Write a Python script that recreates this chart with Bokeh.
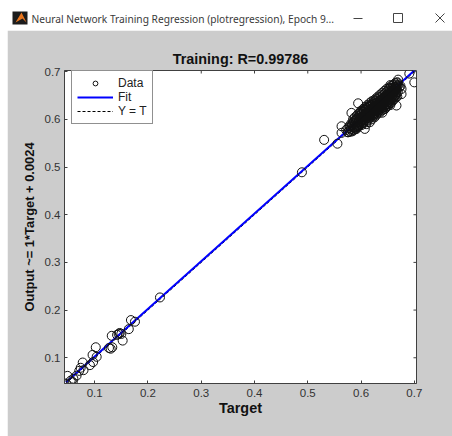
from bokeh.plotting import figure
from bokeh.models import FixedTicker, Range1d, Legend, LegendItem
from bokeh.core.properties import value
from bokeh.embed import file_html
from bokeh.resources import INLINE

window_title = "Neural Network Training Regression (plotregression), Epoch 9..."
chart_title = "Training: R=0.99786"
x_label = "Target"
y_label = "Output ~= 1*Target + 0.0024"
ticks = [0.1, 0.2, 0.3, 0.4, 0.5, 0.6, 0.7]

low_x = [0.046,0.049,0.0587,0.055,0.060,0.066,0.071,0.0737,0.0775,0.079,0.091,0.097,0.096,0.1037,0.102,
         0.1268,0.133,0.130,0.132,0.142,0.147,0.150,0.145,0.1525,0.164,0.168,0.1756,0.2225,0.489]
low_y = [0.046,0.062,0.049,0.052,0.056,0.0625,0.0725,0.079,0.090,0.074,0.0845,0.091,0.106,0.102,0.122,
         0.1205,0.122,0.119,0.146,0.148,0.152,0.150,0.150,0.136,0.160,0.179,0.1756,0.2265,0.489]

out_x = [0.5307,0.5557,0.5634,0.5634,0.5945,0.6906,0.700,0.6696,0.655,0.676,0.676,0.6665,0.6165,0.607,0.5915,0.576,0.582]
out_y = [0.557,0.549,0.5856,0.5717,0.6337,0.696,0.6776,0.6833,0.672,0.6638,0.653,0.629,0.594,0.580,0.580,0.573,0.6136]

cluster_x = [0.575,0.578,0.580,0.582,0.584,0.586,0.587,0.589,0.590,0.591,0.592,0.593,0.594,0.595,0.596,0.597,0.598,0.599,0.600,0.600,
 0.601,0.602,0.603,0.603,0.604,0.605,0.605,0.606,0.607,0.607,0.608,0.608,0.609,0.609,0.610,0.610,0.611,0.611,0.612,0.612,
 0.613,0.613,0.614,0.614,0.615,0.615,0.616,0.616,0.617,0.617,0.618,0.618,0.619,0.619,0.620,0.620,0.621,0.621,0.622,0.622,
 0.623,0.623,0.624,0.624,0.625,0.625,0.626,0.626,0.627,0.627,0.628,0.628,0.629,0.629,0.630,0.630,0.631,0.631,0.632,0.632,
 0.633,0.633,0.634,0.634,0.635,0.635,0.636,0.636,0.637,0.637,0.638,0.638,0.639,0.639,0.640,0.640,0.641,0.641,0.642,0.642,
 0.643,0.643,0.644,0.644,0.645,0.645,0.646,0.646,0.647,0.647,0.648,0.648,0.649,0.649,0.650,0.650,0.651,0.651,0.652,0.652,
 0.653,0.653,0.654,0.654,0.655,0.655,0.656,0.656,0.657,0.657,0.658,0.658,0.659,0.659,0.660,0.660,0.661,0.661,0.662,0.662,
 0.663,0.663,0.664,0.664,0.665,0.665,0.666,0.666,0.667,0.668,0.668,0.669]
cluster_y = [0.573,0.586,0.574,0.592,0.578,0.596,0.582,0.590,0.598,0.584,0.602,0.588,0.594,0.606,0.586,0.600,0.592,0.610,0.596,0.604,
 0.588,0.612,0.598,0.606,0.592,0.616,0.602,0.596,0.610,0.604,0.620,0.600,0.606,0.614,0.594,0.610,0.618,0.602,0.608,0.622,
 0.598,0.614,0.606,0.618,0.602,0.626,0.610,0.616,0.604,0.622,0.612,0.608,0.628,0.618,0.600,0.614,0.624,0.608,0.618,0.630,
 0.612,0.606,0.622,0.616,0.632,0.610,0.620,0.626,0.614,0.634,0.622,0.608,0.628,0.618,0.636,0.612,0.624,0.620,0.630,0.616,
 0.638,0.626,0.622,0.634,0.614,0.628,0.640,0.620,0.632,0.626,0.642,0.618,0.636,0.628,0.624,0.644,0.632,0.620,0.638,0.630,
 0.646,0.626,0.634,0.640,0.622,0.648,0.636,0.630,0.644,0.626,0.650,0.638,0.632,0.646,0.628,0.652,0.640,0.636,0.648,0.632,
 0.654,0.642,0.638,0.650,0.634,0.656,0.646,0.640,0.652,0.636,0.660,0.648,0.644,0.656,0.640,0.662,0.652,0.646,0.658,0.642,
 0.664,0.654,0.650,0.660,0.646,0.668,0.656,0.652,0.662,0.648,0.670,0.658]

upper_x = [0.585,0.588,0.592,0.595,0.598,0.600,0.602,0.604,0.606,0.608,0.610,0.612,0.614,0.616,0.618,0.620,0.622,0.624,0.626,0.628,
 0.630,0.632,0.634,0.636,0.638,0.640,0.642,0.644,0.646,0.648,0.650,0.652,0.654,0.656,0.658,0.660,0.662,0.664,0.666,0.668]
upper_y = [0.600,0.604,0.608,0.612,0.614,0.618,0.616,0.622,0.620,0.626,0.624,0.630,0.628,0.634,0.630,0.638,0.634,0.640,0.638,0.644,
 0.642,0.648,0.646,0.652,0.648,0.656,0.652,0.660,0.656,0.664,0.660,0.666,0.664,0.670,0.666,0.672,0.668,0.676,0.672,0.678]

core_x = [0.596,0.601,0.606,0.611,0.616,0.621,0.626,0.631,0.636,0.641,0.646,0.651,0.656,0.661,0.666,
 0.599,0.604,0.609,0.614,0.619,0.624,0.629,0.634,0.639,0.644,0.649,0.654,0.659,0.664]
core_y = [0.598,0.600,0.605,0.612,0.615,0.620,0.628,0.630,0.635,0.643,0.645,0.650,0.658,0.660,0.665,
 0.603,0.608,0.612,0.611,0.623,0.627,0.626,0.637,0.641,0.640,0.653,0.652,0.662,0.667]

edge_x = [0.572,0.576,0.578,0.580,0.581,0.583,0.584,0.585,0.586,0.587,0.588,0.590,0.591,0.593,0.594,0.595,0.597,
 0.665,0.670,0.672,0.668,0.674,0.600,0.610,0.625,0.640,0.655]
edge_y = [0.578,0.582,0.576,0.585,0.580,0.588,0.575,0.592,0.584,0.578,0.596,0.580,0.600,0.586,0.584,0.602,0.590,
 0.664,0.672,0.668,0.676,0.670,0.590,0.590,0.604,0.614,0.630]

fit_x = [0.046, 0.700]
fit_y = [0.0484, 0.7024]
yt_x = [0.046, 0.700]
yt_y = [0.046, 0.700]

GRAY = "#cccccc"
DARK = "#404040"
XMIN, XMAX, YMIN, YMAX = 0.0433, 0.7041, 0.046, 0.7025
TICK_X = 0.0057
TICK_Y = 0.0063

# window title bar, in pixel coordinates
BAR_W, BAR_H = 452, 30
bar = figure(width=BAR_W, height=BAR_H, x_range=Range1d(0, BAR_W), y_range=Range1d(BAR_H, 0),
             toolbar_location=None, output_backend="svg", min_border=0,
             background_fill_color="white", border_fill_color="white", outline_line_color=None)
bar.axis.visible = False
bar.grid.visible = False
bar.quad(left=[12], right=[27], top=[11], bottom=[24], fill_color="#1c1c1c", line_color=None)
bar.patch([15, 21, 26, 22], [22, 12, 22, 18], fill_color="#e8761e", line_color=None)
bar.text([31], [18], text=[window_title], text_font=value("Noto Sans"), text_font_size="10.2px",
         text_color="#3a3a3a", text_baseline="middle")
bar.line([353, 362], [18, 18], line_color="#444444", line_width=1)
bar.quad(left=[393], right=[402], top=[13], bottom=[22], fill_color=None, line_color="#444444")
bar.segment([435, 435], [13, 22], [444, 444], [22, 13], line_color="#444444")

# chart
p = figure(width=445, height=406, margin=(0, 0, 0, 7),
           x_range=Range1d(XMIN, XMAX), y_range=Range1d(YMIN, YMAX),
           toolbar_location=None, output_backend="svg", min_border=0,
           min_border_left=57, min_border_top=40, min_border_right=36, min_border_bottom=53,
           background_fill_color="white", border_fill_color=GRAY,
           outline_line_color=DARK)
p.grid.visible = False
p.title.text = chart_title
p.title.text_font = "Liberation Sans"
p.title.text_font_size = "14.4px"
p.title.text_font_style = "bold"
p.title.text_color = "#111111"
p.title.align = "center"
p.title.standoff = 8

for ax, lab in ((p.xaxis[0], x_label), (p.yaxis[0], y_label)):
    ax.axis_label = lab
    ax.axis_label_text_font = "Liberation Sans"
    ax.axis_label_text_font_size = "14.4px"
    ax.axis_label_text_font_style = "bold"
    ax.axis_label_text_color = "#111111"
    ax.major_label_text_font = "Liberation Sans"
    ax.major_label_text_font_size = "11.5px"
    ax.major_label_text_color = "#333333"
    ax.ticker = FixedTicker(ticks=ticks)
    ax.minor_tick_line_color = None
    ax.major_tick_in = 3
    ax.major_tick_out = 0
    ax.major_tick_line_color = DARK
    ax.axis_line_color = DARK
    ax.major_label_standoff = 4
p.xaxis[0].major_label_standoff = 5
p.xaxis[0].axis_label_standoff = 0
p.yaxis[0].axis_label_text_font_size = "12.9px"
p.yaxis[0].axis_label_standoff = 5

# top and right ticks
p.segment(ticks, [YMAX] * len(ticks), ticks, [YMAX - TICK_Y] * len(ticks), line_color=DARK)
p.segment([XMAX] * len(ticks), ticks, [XMAX - TICK_X] * len(ticks), ticks, line_color=DARK)

yt_r = p.line(yt_x, yt_y, line_color="black", line_width=1, line_dash="3 2")
fit_r = p.line(fit_x, fit_y, line_color="#0000ff", line_width=2)
data_r = None
for xs, ys in ((low_x, low_y), (out_x, out_y), (cluster_x, cluster_y), (upper_x, upper_y), (core_x, core_y), (edge_x, edge_y)):
    data_r = p.scatter(xs, ys, marker="circle", size=9, fill_color=None, line_color="#111111", line_width=1)

legend = Legend(items=[LegendItem(label="Data", renderers=[data_r]),
                       LegendItem(label="Fit", renderers=[fit_r]),
                       LegendItem(label="Y = T", renderers=[yt_r])],
                location=(7, 259), orientation="vertical",
                border_line_color="#222222", border_line_width=1,
                background_fill_color="white", background_fill_alpha=1,
                label_text_font="Liberation Sans", label_text_font_size="12px",
                label_text_color="#222222", label_standoff=5,
                glyph_width=36, glyph_height=12, label_height=12,
                spacing=0, padding=5, margin=0)
p.add_layout(legend, "center")

open("out.html", "w").write(file_html([bar, p], INLINE))
